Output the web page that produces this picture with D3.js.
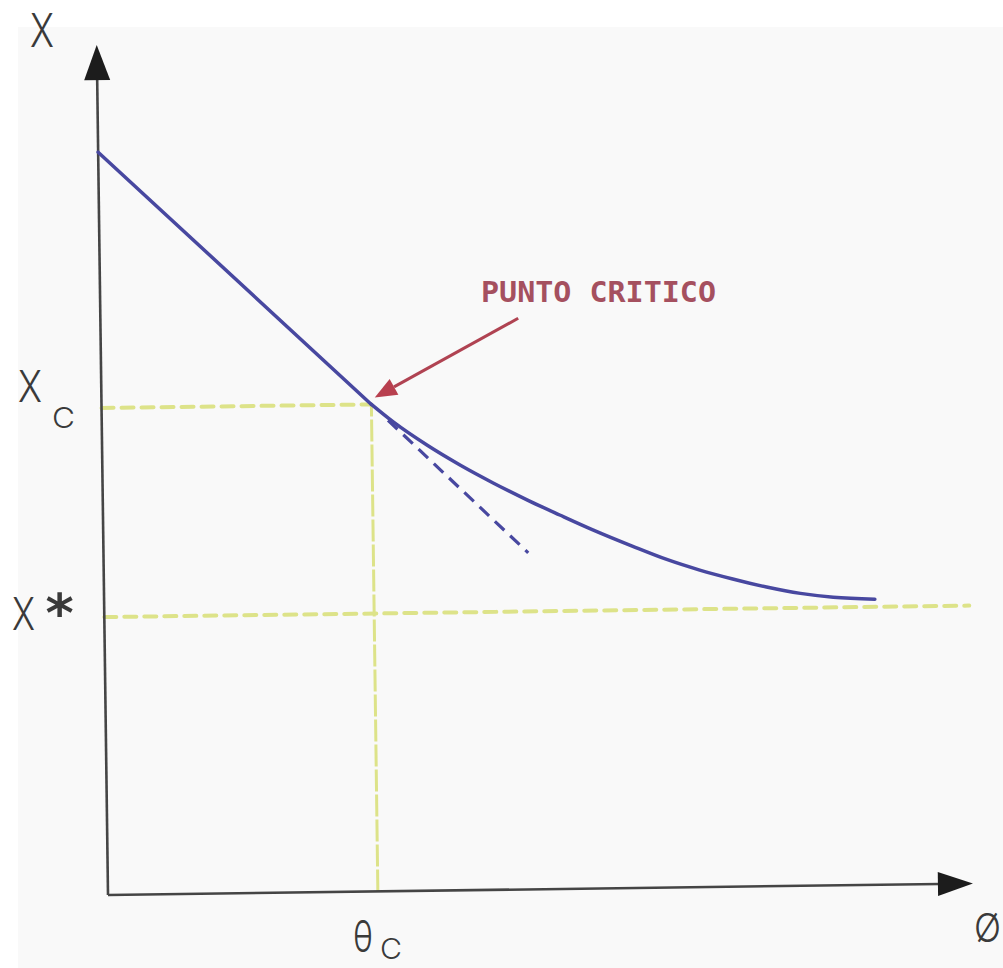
<!DOCTYPE html>
<html>
<head>
<meta charset="utf-8">
<script src="https://cdn.jsdelivr.net/npm/d3@7"></script>
<style>
  body { margin: 0; background: #ffffff; }
  svg { display: block; }
</style>
</head>
<body>
<script>

var w = 1003;
var h = 968;

// data, in chart units (0..100 on each axis, the arrow tips are at 100)
// constant rate period: straight from the start to the critical point
var constTheta = [0, 31.2];
var constX     = [87.4, 57.3];
// falling rate period
var fallTheta = [31.2, 33.7, 37.6, 41.4, 45.1, 49.1, 52.8, 56.6, 61.2, 65.1, 68.9, 72.7, 76.6, 80.5, 84.3, 89.1];
var fallX     = [57.3, 55.2, 52.4, 50.0, 47.9, 45.8, 44.0, 42.2, 40.2, 38.6, 37.3, 36.2, 35.2, 34.4, 33.9, 33.6];
var tangentTheta = [33.1, 49.1];
var tangentX     = [55.4, 39.6];
var thetaC = 31.2;
var xC = 57.3;
var xStar = 32.7;
var pointerFrom = [48.3, 67.2];
var pointerTo   = [31.6, 58.1];

var blue = "#4848a0";
var yellow = "#dde389";
var axisColor = "#454545";
var ink = "#3a3a3a";

var svg = d3.select("body").append("svg")
  .attr("width", w)
  .attr("height", h);

// scanned paper look
svg.append("rect").attr("width", w).attr("height", h).attr("fill", "#ffffff");
svg.append("rect").attr("x", 18).attr("y", 27)
  .attr("width", w - 18).attr("height", h - 27)
  .attr("fill", "#f9f9f9");

// the scan is slightly rotated
var g = svg.append("g")
  .attr("transform", "translate(108,895) rotate(-0.76)");

var x = d3.scaleLinear().domain([0, 100]).range([0, 865]);
var y = d3.scaleLinear().domain([0, 100]).range([0, -850]);

// guide lines (yellow dashed)
g.append("line")
  .attr("x1", x(0)).attr("x2", x(100))
  .attr("y1", y(xStar)).attr("y2", y(xStar))
  .attr("stroke", yellow).attr("stroke-width", 4)
  .attr("stroke-dasharray", "12,8").attr("stroke-linecap", "round");

g.append("line")
  .attr("x1", x(0)).attr("x2", x(thetaC))
  .attr("y1", y(xC)).attr("y2", y(xC))
  .attr("stroke", yellow).attr("stroke-width", 4)
  .attr("stroke-dasharray", "12,8").attr("stroke-linecap", "round");

g.append("line")
  .attr("x1", x(thetaC)).attr("x2", x(thetaC))
  .attr("y1", y(0)).attr("y2", y(xC))
  .attr("stroke", yellow).attr("stroke-width", 3)
  .attr("stroke-dasharray", "22,3");

// axes
var tipX = x(100), tipY = y(100);
g.append("line")
  .attr("x1", 0).attr("y1", 0).attr("x2", tipX - 33).attr("y2", 0)
  .attr("stroke", axisColor).attr("stroke-width", 2.6);
g.append("line")
  .attr("x1", 0).attr("y1", 0).attr("x2", 0).attr("y2", tipY + 33)
  .attr("stroke", axisColor).attr("stroke-width", 2.6);

g.append("path")
  .attr("d", "M" + tipX + ",0 L" + (tipX - 35) + ",-12 L" + (tipX - 35) + ",12 Z")
  .attr("fill", "#1c1c1c");
g.append("path")
  .attr("d", "M0," + tipY + " L-13," + (tipY + 35) + " L13," + (tipY + 35) + " Z")
  .attr("fill", "#1c1c1c");

// drying curve
function pairs(a, b) { return a.map(function (t, i) { return [t, b[i]]; }); }

var straight = d3.line()
  .x(function (d) { return x(d[0]); })
  .y(function (d) { return y(d[1]); });
var smooth = d3.line()
  .x(function (d) { return x(d[0]); })
  .y(function (d) { return y(d[1]); })
  .curve(d3.curveMonotoneX);

g.append("path")
  .datum(pairs(constTheta, constX))
  .attr("d", straight)
  .attr("fill", "none")
  .attr("stroke", blue)
  .attr("stroke-width", 3.5)
  .attr("stroke-linecap", "round");

g.append("path")
  .datum(pairs(fallTheta, fallX))
  .attr("d", smooth)
  .attr("fill", "none")
  .attr("stroke", blue)
  .attr("stroke-width", 3.5)
  .attr("stroke-linecap", "round");

// tangent at the critical point
g.append("line")
  .attr("x1", x(tangentTheta[0])).attr("y1", y(tangentX[0]))
  .attr("x2", x(tangentTheta[1])).attr("y2", y(tangentX[1]))
  .attr("stroke", blue).attr("stroke-width", 3.2)
  .attr("stroke-dasharray", "13,8");

// red pointer
var px0 = x(pointerFrom[0]), py0 = y(pointerFrom[1]);
var px1 = x(pointerTo[0]), py1 = y(pointerTo[1]);
var ang = Math.atan2(py1 - py0, px1 - px0);
var headLen = 22, headW = 9;
var bx = px1 - headLen * Math.cos(ang), by = py1 - headLen * Math.sin(ang);
g.append("line")
  .attr("x1", px0).attr("y1", py0).attr("x2", bx).attr("y2", by)
  .attr("stroke", "#b04352").attr("stroke-width", 3);
g.append("path")
  .attr("d", "M" + px1 + "," + py1 +
    " L" + (bx + headW * Math.sin(ang)) + "," + (by - headW * Math.cos(ang)) +
    " L" + (bx - headW * Math.sin(ang)) + "," + (by + headW * Math.cos(ang)) + " Z")
  .attr("fill", "#b8404f");

// labels
var labelFont = "Inter, 'Open Sans', 'DejaVu Sans', sans-serif";
function label(txt, lx, ly, size, len) {
  var t = svg.append("text")
    .attr("x", lx).attr("y", ly)
    .attr("font-family", labelFont)
    .attr("font-weight", 300)
    .attr("font-size", size)
    .attr("fill", ink)
    .text(txt);
  if (len) t.attr("textLength", len).attr("lengthAdjust", "spacingAndGlyphs");
  return t;
}

label("X", 30, 47, 46, 24);
label("X", 18, 402, 44, 24);
label("C", 52, 428, 29, 23);
label("X", 12, 630, 45, 23);
label("θ", 353, 952, 44, 20);
label("C", 380, 959, 28, 22);
label("Ø", 974, 942, 40, 27);

svg.append("text")
  .attr("x", 59.5).attr("y", 632)
  .attr("text-anchor", "middle")
  .attr("font-family", "'DejaVu Sans', sans-serif")
  .attr("font-weight", "bold")
  .attr("font-size", 54)
  .attr("fill", ink)
  .text("*");

svg.append("text")
  .attr("x", 481).attr("y", 302)
  .attr("font-family", "'DejaVu Sans Mono', monospace")
  .attr("font-weight", "bold")
  .attr("font-size", 29)
  .attr("fill", "#a5505f")
  .attr("textLength", 235)
  .attr("lengthAdjust", "spacingAndGlyphs")
  .text("PUNTO CRITICO");

</script>
</body>
</html>
